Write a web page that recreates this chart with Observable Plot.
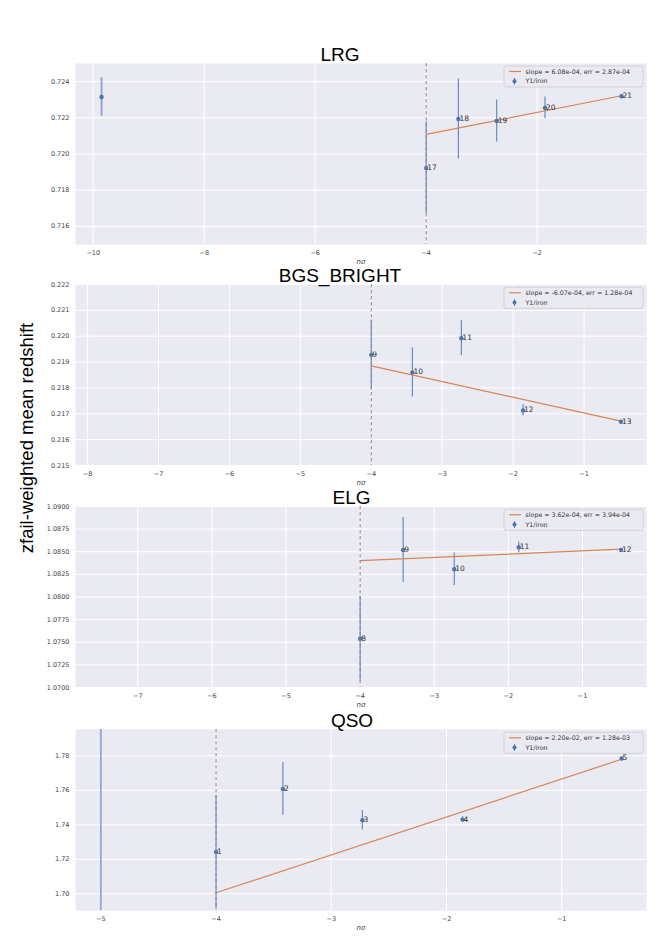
<!DOCTYPE html>
<html>
<head>
<meta charset="utf-8">
<script src="https://cdn.jsdelivr.net/npm/d3@7"></script>
<script src="https://cdn.jsdelivr.net/npm/@observablehq/plot@0.6"></script>
<style>
  body { margin: 0; background: #fff; }
  #fig { position: relative; width: 664px; height: 951px; overflow: hidden; background: #fff; }
  #fig > svg.plotsvg { position: absolute; left: 0; }
  #overlay { position: absolute; left: 0; top: 0; pointer-events: none; }
</style>
</head>
<body>
<div id="fig"></div>
<script>
// ---------------- data ----------------
const panelNames = ["LRG", "BGS_BRIGHT", "ELG", "QSO"];
const nsig = [-4.0, -3.42, -2.73, -1.86, -0.48];

const lrgLabels = [17, 18, 19, 20, 21];
const lrgZ      = [0.71923, 0.72193, 0.72182, 0.72255, 0.72319];
const lrgErr    = [0.00255, 0.00221, 0.00116, 0.00060, 0.00010];

const bgsLabels = [9, 10, 11, 12, 13];
const bgsZ      = [0.21928, 0.21860, 0.21992, 0.21713, 0.21669];
const bgsErr    = [0.00135, 0.00095, 0.00068, 0.00022, 0.00005];

const elgLabels = [8, 9, 10, 11, 12];
const elgZ      = [1.07539, 1.08519, 1.08307, 1.08549, 1.08519];
const elgErr    = [0.00470, 0.00360, 0.00180, 0.00060, 0.00010];

const qsoLabels = [1, 2, 3, 4, 5];
const qsoZ      = [1.72422, 1.76083, 1.74264, 1.74304, 1.77849];
const qsoErr    = [0.03300, 0.01530, 0.00560, 0.00170, 0.00050];

// extra (unlabelled) bins
const extraX   = [[-9.85], [], [], [-5.0]];
const extraZ   = [[0.72315], [], [], [1.60]];
const extraErr = [[0.00106], [], [], [0.25]];

// linear fits (slope from legend, value at first fitted nσ)
const fitSlope  = [6.08e-4, -6.07e-4, 3.62e-4, 2.20e-2];
const fitErr    = [2.87e-4, 1.28e-4, 3.94e-4, 1.28e-3];
const fitStartZ = [0.72108, 0.21885, 1.08401, 1.70058];
const cutX = -4;

// axes
const xDomains = [[-10.32, -0.03], [-8.17, -0.12], [-7.84, -0.137], [-5.22, -0.264]];
const yDomains = [[0.715, 0.725], [0.215, 0.222], [1.07, 1.09], [1.6903, 1.7953]];
const xTicks = [[-10, -8, -6, -4, -2], [-8, -7, -6, -5, -4, -3, -2, -1], [-7, -6, -5, -4, -3, -2, -1], [-5, -4, -3, -2, -1]];
const yTicks = [
  [0.716, 0.718, 0.720, 0.722, 0.724],
  [0.215, 0.216, 0.217, 0.218, 0.219, 0.220, 0.221, 0.222],
  [1.0700, 1.0725, 1.0750, 1.0775, 1.0800, 1.0825, 1.0850, 1.0875, 1.0900],
  [1.70, 1.72, 1.74, 1.76, 1.78]
];
const yFormats = [".3f", ".3f", ".4f", ".2f"];
const legendLabel = "Y1/iron";
const yLabel = "zfail-weighted mean redshift";
const xLabel = "nσ";

// layout
const panelTops = [63, 284.3, 506.3, 729.3];
const panelH = 181;
const frameLeft = 75, frameRight = 646;
const titleCx = [340, 340, 351.5, 352];

const blue = "#4C72B0", orange = "#DD8452";
const zs = [lrgZ, bgsZ, elgZ, qsoZ];
const errs = [lrgErr, bgsErr, elgErr, qsoErr];
const labels = [lrgLabels, bgsLabels, elgLabels, qsoLabels];

const fig = document.getElementById("fig");

function expo(v) {
  return v.toExponential(2).replace(/e([+-])(\d)$/, "e$10$2");
}

panelNames.forEach((name, i) => {
  const pts = nsig.map((x, j) => ({x, z: zs[i][j], e: errs[i][j], label: String(labels[i][j])}));
  const extra = extraX[i].map((x, j) => ({x, z: extraZ[i][j], e: extraErr[i][j]}));
  const fit = [nsig[0], nsig[nsig.length - 1]].map(x => ({x, z: fitStartZ[i] + fitSlope[i] * (x - nsig[0])}));
  const mb = 30;
  const svg = Plot.plot({
    width: 664,
    height: panelH + mb,
    marginLeft: frameLeft,
    marginRight: 664 - frameRight,
    marginTop: 0,
    marginBottom: mb,
    style: {background: "transparent", fontFamily: "DejaVu Sans", fontSize: "6.5px", color: "#444", overflow: "visible"},
    x: {domain: xDomains[i], ticks: xTicks[i], tickSize: 0, tickPadding: 6, label: null, tickFormat: d3.format("d")},
    y: {domain: yDomains[i], ticks: yTicks[i], tickSize: 0, tickPadding: 6, label: null, tickFormat: d3.format(yFormats[i])},
    marks: [
      Plot.frame({fill: "#EAEAF2", stroke: "none"}),
      Plot.ruleX(xTicks[i], {stroke: "white", strokeWidth: 1}),
      Plot.ruleY(yTicks[i], {stroke: "white", strokeWidth: 1}),
      Plot.ruleX(extra, {x: "x", y1: d => d.z - d.e, y2: d => d.z + d.e, stroke: blue, strokeOpacity: 0.6, strokeWidth: 1.8, clip: true}),
      Plot.dot(extra, {x: "x", y: "z", r: 2.2, fill: blue, clip: true}),
      Plot.ruleX(pts, {x: "x", y1: d => d.z - d.e, y2: d => d.z + d.e, stroke: blue, strokeOpacity: 0.8, strokeWidth: 1.2, clip: true}),
      Plot.line(fit, {x: "x", y: "z", stroke: orange, strokeWidth: 1.2}),
      Plot.dot(pts, {x: "x", y: "z", r: 2.2, fill: blue, clip: true}),
      Plot.ruleX([cutX], {stroke: "#8a8a8a", strokeDasharray: "3.5,2.5", strokeWidth: 1}),
      Plot.text(pts, {x: "x", y: "z", text: "label", textAnchor: "start", lineAnchor: "bottom", dx: 1, dy: 2, fontSize: 7.5, fill: "#333"}),
      Plot.text([xLabel], {text: d => d, frameAnchor: "bottom", dy: 19, fontStyle: "italic", fontSize: 7, fill: "#444"})
    ]
  });
  svg.classList.add("plotsvg");
  svg.style.top = (panelTops[i]) + "px";
  fig.appendChild(svg);
});

// overlay: titles, y label, legends
const ns = "http://www.w3.org/2000/svg";
const ov = d3.select(fig).append("svg").attr("id", "overlay").attr("width", 664).attr("height", 951);
panelNames.forEach((name, i) => {
  ov.append("text").attr("x", titleCx[i]).attr("y", panelTops[i] - 2.2)
    .attr("text-anchor", "middle").attr("font-family", "Liberation Sans, Arial, sans-serif")
    .attr("font-size", 19).attr("fill", "#000").text(name);
  const lx = 504, ly = panelTops[i] + 3, lw = 139, lh = 21;
  const g = ov.append("g").attr("transform", `translate(${lx},${ly})`);
  g.append("rect").attr("width", lw).attr("height", lh).attr("rx", 2)
    .attr("fill", "#EAEAF2").attr("fill-opacity", 0.8).attr("stroke", "#cccccc").attr("stroke-width", 0.8);
  g.append("line").attr("x1", 5).attr("x2", 17).attr("y1", 5.5).attr("y2", 5.5).attr("stroke", orange).attr("stroke-width", 1.2);
  g.append("text").attr("x", 21.5).attr("y", 5.5).attr("dy", "0.35em")
    .attr("font-family", "DejaVu Sans").attr("font-size", 6.3).attr("fill", "#333")
    .text(`slope = ${expo(fitSlope[i])}, err = ${expo(fitErr[i])}`);
  g.append("line").attr("x1", 10.5).attr("x2", 10.5).attr("y1", 12).attr("y2", 18.5).attr("stroke", blue).attr("stroke-width", 1.2);
  g.append("circle").attr("cx", 10.5).attr("cy", 15.2).attr("r", 2).attr("fill", blue);
  g.append("text").attr("x", 21.5).attr("y", 15.2).attr("dy", "0.35em")
    .attr("font-family", "DejaVu Sans").attr("font-size", 6.3).attr("fill", "#333")
    .text(legendLabel);
});
ov.append("text").attr("transform", "translate(33,438) rotate(-90)")
  .attr("text-anchor", "middle").attr("font-family", "Liberation Sans, Arial, sans-serif")
  .attr("font-size", 18.5).attr("fill", "#000").text(yLabel);
</script>
</body>
</html>
